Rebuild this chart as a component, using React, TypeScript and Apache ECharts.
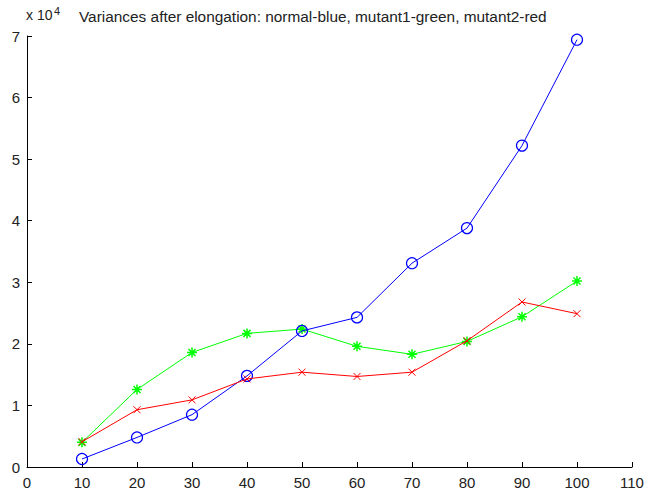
import React, { useEffect, useRef } from "react";
import * as echarts from "echarts";

const xValues = [10, 20, 30, 40, 50, 60, 70, 80, 90, 100];
const normalBlue = [0.13, 0.48, 0.85, 1.48, 2.21, 2.43, 3.31, 3.88, 5.22, 6.94];
const mutant1Green = [0.40, 1.26, 1.86, 2.17, 2.24, 1.96, 1.83, 2.04, 2.44, 3.02];
const mutant2Red = [0.41, 0.93, 1.09, 1.43, 1.54, 1.47, 1.54, 2.05, 2.68, 2.49];
const titleText = "Variances after elongation: normal-blue, mutant1-green, mutant2-red";

const FONT = "Liberation Sans, Arial, Helvetica, sans-serif";

export default function App() {
  const ref = useRef<HTMLDivElement>(null);
  useEffect(() => {
    if (!ref.current) return;
    const chart = echarts.init(ref.current, null, { renderer: "svg" });
    const pair = (ys: number[]) => xValues.map((x, i) => [x, ys[i]]);
    chart.setOption({
      animation: false,
      backgroundColor: "#ffffff",
      grid: { left: 27, top: 36, width: 605, height: 431, containLabel: false },
      xAxis: {
        type: "value",
        min: 0,
        max: 110,
        interval: 10,
        splitLine: { show: false },
        axisLine: { lineStyle: { color: "#000", width: 1 } },
        axisTick: { inside: true, length: 5, lineStyle: { color: "#000" } },
        axisLabel: { color: "#222", fontSize: 15, fontFamily: FONT, margin: 8 },
      },
      yAxis: {
        type: "value",
        min: 0,
        max: 7,
        interval: 1,
        splitLine: { show: false },
        axisLine: { show: true, lineStyle: { color: "#000", width: 1 } },
        axisTick: { show: true, inside: true, length: 5, lineStyle: { color: "#000" } },
        axisLabel: { color: "#222", fontSize: 15, fontFamily: FONT, margin: 7 },
      },
      graphic: [
        {
          type: "text",
          x: 26,
          y: 22,
          style: {
            text: "x 10",
            fill: "#222",
            font: `14px ${FONT}`,
            verticalAlign: "bottom",
          },
        },
        {
          type: "text",
          x: 54,
          y: 16,
          style: {
            text: "4",
            fill: "#222",
            font: `11px ${FONT}`,
            verticalAlign: "bottom",
          },
        },
        {
          type: "text",
          x: 79,
          y: 16,
          style: { text: titleText, fill: "#222", font: `15.4px ${FONT}`, verticalAlign: "middle" },
        },
      ],
      series: [
        {
          type: "line",
          data: pair(normalBlue),
          symbol: "circle",
          symbolSize: 11,
          lineStyle: { color: "#0000ff", width: 1 },
          itemStyle: { color: "rgba(0,0,0,0)", borderColor: "#0000ff", borderWidth: 1.2 },
          z: 3,
        },
        {
          type: "line",
          data: pair(mutant1Green),
          symbol: "path://M5,0L5,10M0,5L10,5M1.5,1.5L8.5,8.5M8.5,1.5L1.5,8.5",
          symbolSize: 10,
          lineStyle: { color: "#00ff00", width: 1 },
          itemStyle: { color: "rgba(0,0,0,0)", borderColor: "#00ff00", borderWidth: 1.5 },
          z: 2,
        },
        {
          type: "line",
          data: pair(mutant2Red),
          symbol: "path://M0,0L10,10M10,0L0,10",
          symbolSize: 7,
          lineStyle: { color: "#ff0000", width: 1 },
          itemStyle: { color: "rgba(0,0,0,0)", borderColor: "#ff0000", borderWidth: 1 },
          z: 4,
        },
      ],
    });
    return () => chart.dispose();
  }, []);
  return (
    <div
      ref={ref}
      style={{ position: "fixed", left: 0, top: 0, width: 647, height: 495, background: "#fff" }}
    />
  );
}
